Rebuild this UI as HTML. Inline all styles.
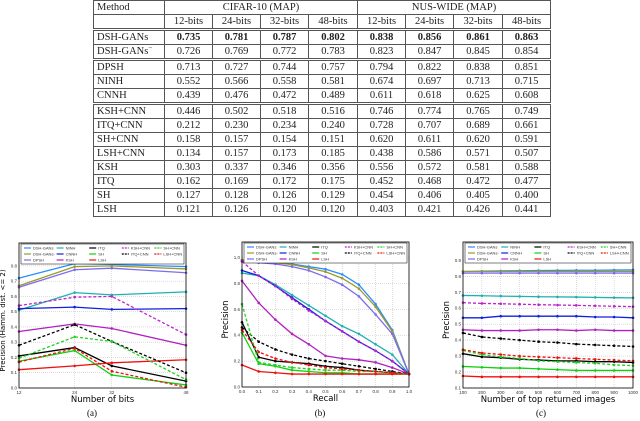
<!DOCTYPE html>
<html><head><meta charset="utf-8">
<style>
body{margin:0;background:#fff;width:640px;height:421px;overflow:hidden;position:relative;font-family:"Liberation Serif",serif}
table{position:absolute;left:93px;top:0;border-collapse:collapse;font-size:10.5px;color:#222;table-layout:fixed;width:457px}
td{border:1px solid #555;height:13px;padding:0 3px;text-align:center;line-height:12px;overflow:hidden;white-space:nowrap}
td.m{text-align:left}
tr.dbl td{border-top:3px double #555}
sup{font-size:7px;line-height:0;vertical-align:4px}
b{font-weight:bold}
svg{position:absolute;left:0;top:0}
</style></head><body>
<table>
<colgroup><col style="width:71px"><col style="width:48px"><col style="width:48px"><col style="width:48px"><col style="width:49px"><col style="width:48px"><col style="width:48px"><col style="width:49px"><col style="width:48px"></colgroup>
<tr><td class="m">Method</td><td colspan="4">CIFAR-10 (MAP)</td><td colspan="4">NUS-WIDE (MAP)</td></tr>
<tr><td class="m"></td><td>12-bits</td><td>24-bits</td><td>32-bits</td><td>48-bits</td><td>12-bits</td><td>24-bits</td><td>32-bits</td><td>48-bits</td></tr>
<tr class="dbl"><td class="m">DSH-GANs</td><td><b>0.735</b></td><td><b>0.781</b></td><td><b>0.787</b></td><td><b>0.802</b></td><td><b>0.838</b></td><td><b>0.856</b></td><td><b>0.861</b></td><td><b>0.863</b></td></tr>
<tr><td class="m">DSH-GANs<sup>−</sup></td><td>0.726</td><td>0.769</td><td>0.772</td><td>0.783</td><td>0.823</td><td>0.847</td><td>0.845</td><td>0.854</td></tr>
<tr class="dbl"><td class="m">DPSH</td><td>0.713</td><td>0.727</td><td>0.744</td><td>0.757</td><td>0.794</td><td>0.822</td><td>0.838</td><td>0.851</td></tr>
<tr><td class="m">NINH</td><td>0.552</td><td>0.566</td><td>0.558</td><td>0.581</td><td>0.674</td><td>0.697</td><td>0.713</td><td>0.715</td></tr>
<tr><td class="m">CNNH</td><td>0.439</td><td>0.476</td><td>0.472</td><td>0.489</td><td>0.611</td><td>0.618</td><td>0.625</td><td>0.608</td></tr>
<tr class="dbl"><td class="m">KSH+CNN</td><td>0.446</td><td>0.502</td><td>0.518</td><td>0.516</td><td>0.746</td><td>0.774</td><td>0.765</td><td>0.749</td></tr>
<tr><td class="m">ITQ+CNN</td><td>0.212</td><td>0.230</td><td>0.234</td><td>0.240</td><td>0.728</td><td>0.707</td><td>0.689</td><td>0.661</td></tr>
<tr><td class="m">SH+CNN</td><td>0.158</td><td>0.157</td><td>0.154</td><td>0.151</td><td>0.620</td><td>0.611</td><td>0.620</td><td>0.591</td></tr>
<tr><td class="m">LSH+CNN</td><td>0.134</td><td>0.157</td><td>0.173</td><td>0.185</td><td>0.438</td><td>0.586</td><td>0.571</td><td>0.507</td></tr>
<tr><td class="m">KSH</td><td>0.303</td><td>0.337</td><td>0.346</td><td>0.356</td><td>0.556</td><td>0.572</td><td>0.581</td><td>0.588</td></tr>
<tr><td class="m">ITQ</td><td>0.162</td><td>0.169</td><td>0.172</td><td>0.175</td><td>0.452</td><td>0.468</td><td>0.472</td><td>0.477</td></tr>
<tr><td class="m">SH</td><td>0.127</td><td>0.128</td><td>0.126</td><td>0.129</td><td>0.454</td><td>0.406</td><td>0.405</td><td>0.400</td></tr>
<tr><td class="m">LSH</td><td>0.121</td><td>0.126</td><td>0.120</td><td>0.120</td><td>0.403</td><td>0.421</td><td>0.426</td><td>0.441</td></tr>
</table>
<svg id="s" width="640" height="421"></svg>
<script>
const names=["DSH-GANs","DSH-GANs-","DPSH","NINH","CNNH","KSH","ITQ","SH","LSH","KSH+CNN","ITQ+CNN","SH+CNN","LSH+CNN"];
const colors=["#2a8cff","#9a9a2a","#7b6cf0","#1fb0b0","#1020e0","#b020c0","#000","#10d010","#f01010","#c020d0","#000","#20d020","#f01010"];
const dashed=[0,0,0,0,0,0,0,0,0,1,1,1,1];
const xA=[12,24,32,48];
const yA=[[.72,.815,.81,.795],[.67,.795,.80,.78],[.66,.775,.785,.755],[.51,.625,.61,.63],[.52,.53,.515,.52],[.37,.42,.39,.28],[.21,.265,.145,.045],[.175,.245,.085,.02],[.12,.145,.165,.185],[.54,.595,.60,.35],[.28,.415,.305,.10],[.195,.335,.305,.055],[.17,.26,.11,.005]];
const xB=[0,.1,.2,.3,.4,.5,.6,.7,.8,.9,1];
const yB=[[.98,.97,.96,.95,.93,.91,.87,.79,.64,.44,.10],[.98,.975,.96,.945,.92,.89,.84,.76,.62,.43,.10],[.97,.96,.95,.93,.9,.85,.79,.70,.56,.41,.10],[.88,.86,.79,.71,.63,.55,.47,.41,.33,.25,.10],[.90,.86,.78,.69,.60,.51,.43,.35,.28,.20,.10],[.82,.65,.52,.41,.33,.24,.22,.21,.19,.15,.10],[.50,.23,.20,.19,.18,.16,.15,.13,.12,.11,.10],[.42,.18,.16,.13,.12,.11,.11,.10,.10,.10,.10],[.17,.12,.11,.10,.10,.10,.10,.10,.10,.10,.10],[.97,.86,.78,.68,.59,.51,.43,.35,.28,.20,.10],[.46,.35,.29,.25,.22,.20,.18,.16,.14,.12,.10],[.64,.19,.17,.15,.14,.13,.13,.12,.12,.11,.10],[.44,.27,.22,.19,.17,.15,.14,.13,.12,.11,.10]];
const xC=[100,200,300,400,500,600,700,800,900,1000];
const yC=[[.83,.832,.834,.835,.836,.837,.838,.838,.839,.84],[.83,.83,.83,.83,.83,.83,.83,.83,.83,.83],[.82,.82,.82,.82,.82,.82,.82,.82,.82,.82],[.68,.678,.676,.674,.672,.671,.67,.668,.666,.665],[.54,.54,.55,.55,.55,.55,.55,.545,.545,.54],[.465,.46,.46,.46,.465,.465,.46,.465,.46,.46],[.315,.295,.29,.28,.275,.27,.27,.265,.265,.26],[.235,.23,.225,.225,.22,.215,.21,.21,.21,.21],[.175,.17,.17,.17,.17,.17,.17,.17,.17,.17],[.635,.63,.628,.625,.622,.62,.618,.615,.612,.61],[.445,.42,.41,.40,.39,.385,.375,.37,.365,.36],[.335,.31,.295,.285,.27,.265,.26,.255,.245,.24],[.34,.32,.31,.30,.295,.29,.285,.28,.275,.27]];
const ticksA=[12,24,32,48], ticksAy=[0,.1,.2,.3,.4,.5,.6,.7,.8];
const ticksB=[0,.1,.2,.3,.4,.5,.6,.7,.8,.9,1], ticksBy=[0,.2,.4,.6,.8,1];
const ticksC=xC, ticksCy=[.1,.2,.3,.4,.5,.6,.7,.8,.9];
const S=document.getElementById('s'),NS="http://www.w3.org/2000/svg";
function el(t,a,p){const e=document.createElementNS(NS,t);for(const k in a)e.setAttribute(k,a[k]);(p||S).appendChild(e);return e;}
function panel(key,X0,X1,Y0,Y1,xmin,xmax,ymin,ymax,xs,ys,xt,yt,fmtX,fmtY,xlab,ylab,cap,capx){
 const g=el('g',{});
 
 
 const sx=v=>X0+(v-xmin)/(xmax-xmin)*(X1-X0), sy=v=>Y1-(v-ymin)/(ymax-ymin)*(Y1-Y0);
 xt.forEach(t=>{el('line',{x1:sx(t),x2:sx(t),y1:Y0,y2:Y1,stroke:'#bbb','stroke-width':.5,'stroke-dasharray':'1,1'},g);
  const tx=el('text',{x:sx(t),y:Y1+6,'font-size':4.5,'text-anchor':'middle','font-family':'Liberation Sans',fill:'#333'},g);tx.textContent=fmtX(t);});
 yt.forEach(t=>{el('line',{x1:X0,x2:X1,y1:sy(t),y2:sy(t),stroke:'#bbb','stroke-width':.5,'stroke-dasharray':'1,1'},g);
  const tx=el('text',{x:X0-2,y:sy(t)+1.5,'font-size':4.5,'text-anchor':'end','font-family':'Liberation Sans',fill:'#333'},g);tx.textContent=fmtY(t);});
 ys.forEach((ser,i)=>{
  const pl=el('polyline',{points:ser.map((v,j)=>sx(xs[j])+','+sy(v)).join(' '),fill:'none',stroke:colors[i],'stroke-width':1.3,'stroke-dasharray':dashed[i]?'3,2':'none'},g);
  
  
  ser.forEach((v,j)=>{const c=el('circle',{cx:sx(xs[j]),cy:sy(v),r:1.3,fill:colors[i]},g);
   
   });
 });
 el('rect',{x:X0,y:Y0,width:X1-X0,height:Y1-Y0,fill:'none',stroke:'#000','stroke-width':.8},g);
 const lw=X1-X0-4, lg=el('g',{},g);
 
 
 el('rect',{x:X0+2,y:Y0+1,width:lw,height:20,fill:'#fff',stroke:'#000','stroke-width':.5},lg);
 const order=[[0,3,6,9,11],[1,4,7,10,12],[2,5,8]];
 order.forEach((row,r)=>row.forEach((i,c)=>{const lx=X0+5+c*lw/5, ly=Y0+5+r*6;
  el('line',{x1:lx,x2:lx+7,y1:ly,y2:ly,stroke:colors[i],'stroke-width':1.2,'stroke-dasharray':dashed[i]?'2,1':'none'},lg);
  const t=el('text',{x:lx+9,y:ly+1.5,'font-size':4,'font-family':'Liberation Sans',fill:'#333'},lg);t.textContent=names[i];}));
 const xl=el('text',{x:(X0+X1)/2,y:Y1+14,'font-size':8.5,'text-anchor':'middle','font-family':'DejaVu Sans'},g);xl.textContent=xlab;
 
 const yx=X0-14, yy=(Y0+Y1)/2+5;
 const yl=el('text',{x:yx,y:yy,'font-size':key=='a'?7:8.5,'text-anchor':'middle','font-family':'DejaVu Sans',transform:`rotate(-90 ${yx} ${yy})`},g);yl.textContent=ylab;
 
 const cp=el('text',{x:capx,y:416,'font-size':9,'text-anchor':'middle','font-family':'Liberation Serif'},g);cp.textContent=cap;
 
}
const f1=v=>v.toFixed(1);
panel('a',19,186,243,388,12,48,0,0.95,xA,yA,ticksA,ticksAy,v=>String(v),f1,'Number of bits','Precision (Hamm. dist. <= 2)','(a)',92);
panel('b',242,409,242,387,0,1,0,1.12,xB,yB,ticksB,ticksBy,f1,f1,'Recall','Precision','(b)',320);
panel('c',463,633,242,388,100,1000,0.1,1.015,xC,yC,ticksC,ticksCy,v=>String(v),f1,'Number of top returned images','Precision','(c)',541);
</script>
</body></html>
